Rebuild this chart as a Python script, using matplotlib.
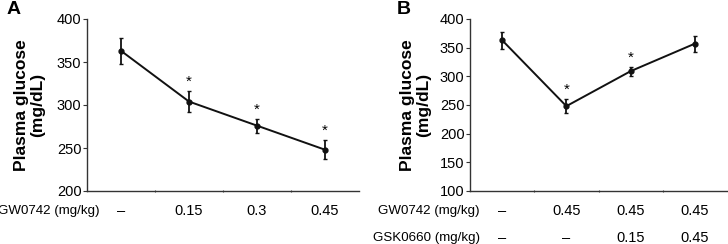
import numpy as np
import matplotlib.pyplot as plt

# panel A
a_labels = ["–", "0.15", "0.3", "0.45"]
a_mean = [363, 304, 276, 248]
a_err = [15, 12, 8, 11]
a_sig = [False, True, True, True]

# panel B
b_gw = ["–", "0.45", "0.45", "0.45"]
b_gsk = ["–", "–", "0.15", "0.45"]
b_mean = [363, 248, 309, 357]
b_err = [15, 12, 8, 14]
b_sig = [False, True, True, False]

plt.rcParams['font.family'] = ['Liberation Sans', 'DejaVu Sans']

fig = plt.figure(figsize=(7.28, 2.44), dpi=100)
W, H = 728, 244
axA = fig.add_axes([87 / W, 1 - 191 / H, (359 - 87) / W, (191 - 19) / H])
axB = fig.add_axes([470 / W, 1 - 191 / H, (727 - 470) / W, (191 - 19) / H])


def panel(ax, mean, err, sig, ylim, yticks):
    x = np.arange(len(mean)) + 0.5
    ax.errorbar(x, mean, yerr=err, color="#111111", lw=1.4, marker="o", ms=3.5,
                elinewidth=1.3, capsize=1.2, capthick=1.0)
    for xi, m, e, s in zip(x, mean, err, sig):
        if s:
            ax.text(xi, m + e + 2 * (ylim[1] - ylim[0]) / 172, "*", ha="center",
                    va="bottom", fontsize=11)
    ax.set_xlim(0, len(mean))
    ax.set_ylim(*ylim)
    ax.set_yticks(yticks)
    ax.set_xticks(np.arange(1, len(mean)))
    ax.set_xticklabels([])
    ax.tick_params(axis="x", length=2, width=0.8, direction="inout", color="#444444")
    ax.tick_params(axis="y", length=3, width=0.8, labelsize=10.5, pad=1, color="#333333")
    ax.spines["top"].set_visible(False)
    ax.spines["right"].set_visible(False)
    for s in ("left", "bottom"):
        ax.spines[s].set_linewidth(1.0)
        ax.spines[s].set_color("#333333")
    ax.set_ylabel("Plasma glucose\n(mg/dL)", fontsize=12.5, fontweight="bold",
                  linespacing=1.1)
    return x


row1 = (191 - 211) / 172
row2 = (191 - 238) / 172

xa = panel(axA, a_mean, a_err, a_sig, (200, 400), [200, 250, 300, 350, 400])
axA.yaxis.set_label_coords(-0.154, 0.5)
for xi, lab in zip(xa, a_labels):
    axA.text(xi, row1, lab, transform=axA.get_xaxis_transform(), ha="center",
             va="center", fontsize=10.5)
fig.text(100 / W, 1 - 211 / H, "GW0742 (mg/kg)", ha="right", va="center", fontsize=9.6)
fig.text(7 / W, 1 - 10 / H, "A", ha="left", va="center", fontsize=14, fontweight="bold")

xb = panel(axB, b_mean, b_err, b_sig, (100, 400), [100, 150, 200, 250, 300, 350, 400])
axB.yaxis.set_label_coords(-0.152, 0.5)
for xi, g1, g2 in zip(xb, b_gw, b_gsk):
    axB.text(xi, row1, g1, transform=axB.get_xaxis_transform(), ha="center",
             va="center", fontsize=10.5)
    axB.text(xi, row2, g2, transform=axB.get_xaxis_transform(), ha="center",
             va="center", fontsize=10.5)
fig.text(480 / W, 1 - 211 / H, "GW0742 (mg/kg)", ha="right", va="center", fontsize=9.6)
fig.text(480 / W, 1 - 238 / H, "GSK0660 (mg/kg)", ha="right", va="center", fontsize=9.6)
fig.text(397 / W, 1 - 10 / H, "B", ha="left", va="center", fontsize=14, fontweight="bold")

fig.savefig("out.png", dpi=100)
